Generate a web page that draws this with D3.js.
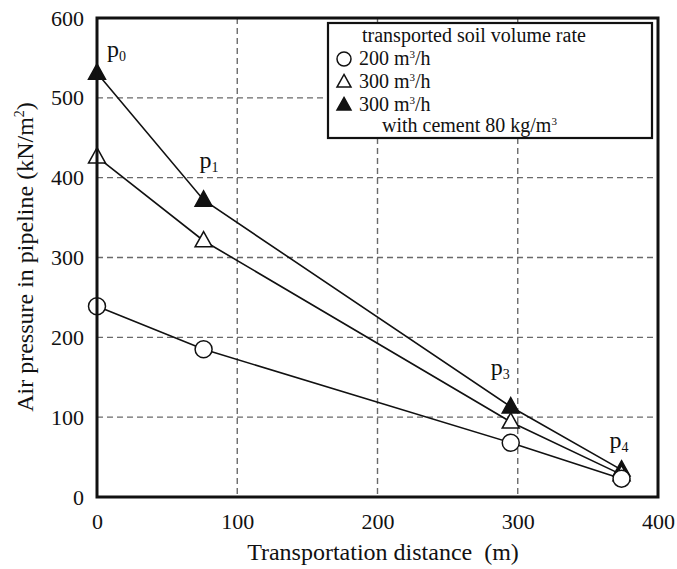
<!DOCTYPE html>
<html><head><meta charset="utf-8">
<script src="https://cdn.jsdelivr.net/npm/d3@7"></script>
<style>body{margin:0;background:#fff}svg{display:block}text{font-family:"Liberation Serif","Times New Roman","DejaVu Serif",serif}</style>
</head><body><svg id="c" width="677" height="569"></svg>
<script>
const distance = [0, 76, 295, 374];
const p200 = [239, 185, 68, 23];
const p300 = [426, 321, 94, 28];
const p300cement = [531, 372, 113, 34];
const pointNames = ["0", "1", "3", "4"];
const xTicks = [0, 100, 200, 300, 400];
const yTicks = [0, 100, 200, 300, 400, 500, 600];

const FONT = "Liberation Serif, Times New Roman, DejaVu Serif, serif";
const svg = d3.select("#c");
const L = 97, R = 658, T = 18, B = 497;
const x = d3.scaleLinear().domain([0, 400]).range([L, R]);
const y = d3.scaleLinear().domain([0, 600]).range([B, T]);

// grid
const grid = svg.append("g").attr("stroke", "#6a6a6a").attr("stroke-width", 1.4).attr("stroke-dasharray", "6,4");
grid.selectAll("line.v").data(xTicks.filter(d => d > 0 && d < 400)).join("line")
  .attr("x1", d => x(d)).attr("x2", d => x(d)).attr("y1", T).attr("y2", B);
grid.selectAll("line.h").data(yTicks.filter(d => d > 0 && d < 600)).join("line")
  .attr("x1", L).attr("x2", R).attr("y1", d => y(d)).attr("y2", d => y(d));

// axes via d3 axes
const xAxis = svg.append("g").attr("transform", `translate(0,${B})`)
  .call(d3.axisBottom(x).tickValues(xTicks).tickSize(0).tickPadding(16));
const yAxis = svg.append("g").attr("transform", `translate(${L},0)`)
  .call(d3.axisLeft(y).tickValues(yTicks).tickSize(0).tickPadding(13));
[xAxis, yAxis].forEach(a => {
  a.attr("font-family", FONT).attr("font-size", 22);
  a.select(".domain").remove();
  a.selectAll("text").attr("font-family", FONT).attr("font-size", 22).attr("fill", "#111");
});

// series
const series = [
  {vals: p200, sym: "circle"},
  {vals: p300, sym: "tri-open"},
  {vals: p300cement, sym: "tri-fill"}
];
const line = d3.line().x(d => x(d.x)).y(d => y(d.y));
series.forEach(s => {
  const pts = distance.map((d, i) => ({x: d, y: s.vals[i]}));
  s.pts = pts;
  svg.append("path").datum(pts).attr("d", line).attr("fill", "none").attr("stroke", "#111").attr("stroke-width", 1.6);
});
function marker(g, sym, cx, cy, size) {
  if (sym === "circle") {
    g.append("circle").attr("cx", cx).attr("cy", cy).attr("r", size * 0.5)
      .attr("fill", "#fff").attr("stroke", "#111").attr("stroke-width", 1.5);
  } else {
    const h = size * 0.9, w = size;
    g.append("path").attr("d", `M${cx},${cy - h * 0.6}L${cx + w / 2},${cy + h * 0.4}L${cx - w / 2},${cy + h * 0.4}Z`)
      .attr("fill", sym === "tri-fill" ? "#111" : "#fff").attr("stroke", "#111").attr("stroke-width", 1.5);
  }
}
[series[2], series[1], series[0]].forEach(s => {
  s.pts.forEach(p => marker(svg, s.sym, x(p.x), y(p.y), 17));
});

// point labels
const labelOffsets = [[10, -16], [-4, -32], [-20, -32], [-12, -22]];
pointNames.forEach((n, i) => {
  const t = svg.append("text").attr("x", x(distance[i]) + labelOffsets[i][0]).attr("y", y(p300cement[i]) + labelOffsets[i][1])
    .attr("font-family", FONT).attr("font-size", 24).attr("fill", "#111");
  t.append("tspan").text("p");
  t.append("tspan").attr("font-size", 14).attr("dy", 4).text(n);
});

// frame
svg.append("rect").attr("x", L).attr("y", T).attr("width", R - L).attr("height", B - T)
  .attr("fill", "none").attr("stroke", "#111").attr("stroke-width", 3);

// legend
const lg = svg.append("g").attr("font-family", FONT);
lg.append("rect").attr("x", 328).attr("y", 23).attr("width", 324).attr("height", 115)
  .attr("fill", "#fff").attr("stroke", "#111").attr("stroke-width", 2.2);
lg.append("text").attr("x", 362).attr("y", 42).attr("font-size", 20).attr("fill", "#111").text("transported soil volume rate");
const legItems = [
  {sym: "circle", label: "200", cy: 59, by: 65},
  {sym: "tri-open", label: "300", cy: 82, by: 88},
  {sym: "tri-fill", label: "300", cy: 105, by: 111}
];
legItems.forEach(it => {
  marker(lg, it.sym, 344, it.cy, 14);
  const t = lg.append("text").attr("x", 359).attr("y", it.by).attr("font-size", 20).attr("fill", "#111");
  t.append("tspan").text(it.label + " m");
  t.append("tspan").attr("font-size", 11).attr("dy", -7).text("3");
  t.append("tspan").attr("dy", 7).text("/h");
});
const tc = lg.append("text").attr("x", 382).attr("y", 132).attr("font-size", 20).attr("fill", "#111");
tc.append("tspan").text("with cement 80 kg/m");
tc.append("tspan").attr("font-size", 11).attr("dy", -7).text("3");

// axis titles
svg.append("text").attr("x", 383).attr("y", 560).attr("text-anchor", "middle").attr("font-family", FONT).attr("font-size", 24).attr("fill", "#111")
  .text("Transportation distance\u00a0\u00a0(m)");
const yt = svg.append("text").attr("transform", `translate(33,257) rotate(-90)`).attr("text-anchor", "middle")
  .attr("font-family", FONT).attr("font-size", 24).attr("fill", "#111");
yt.append("tspan").text("Air pressure in pipeline (kN/m");
yt.append("tspan").attr("font-size", 14).attr("dy", -9).text("2");
yt.append("tspan").attr("dy", 9).text(")");
</script></body></html>
